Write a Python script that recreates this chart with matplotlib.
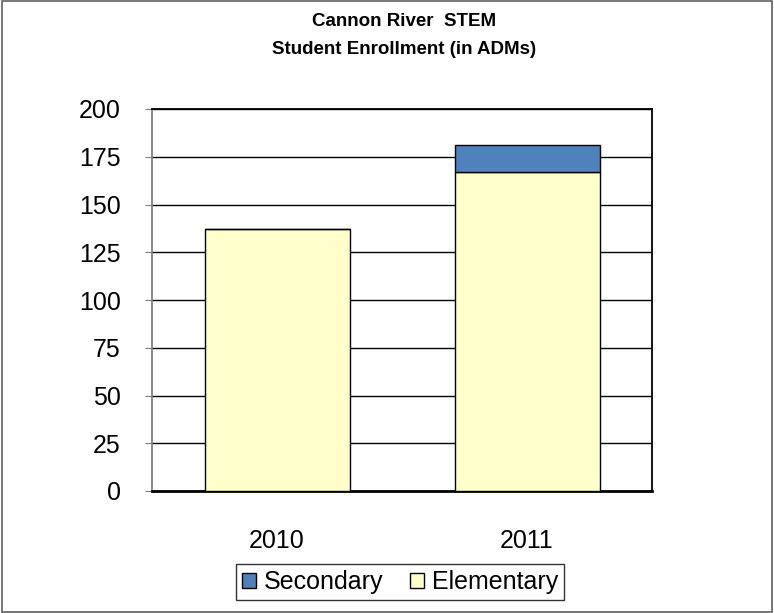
import matplotlib
matplotlib.use("Agg")
import matplotlib.pyplot as plt
from matplotlib.patches import Rectangle
import numpy as np

# data
years = ["2010", "2011"]
elementary = [137, 167]
secondary = [0, 14]
yticks = [0, 25, 50, 75, 100, 125, 150, 175, 200]

plt.rcParams['font.family'] = ['Liberation Sans', 'DejaVu Sans']

fig = plt.figure(figsize=(7.74, 6.13), dpi=100)
ax = fig.add_axes([152/774, 1 - 491/613, 500/774, 382/613])

x = np.arange(len(years))
ax.bar(x, elementary, width=0.58, color="#FFFFCC", edgecolor="black",
       linewidth=1, label="Elementary", zorder=3)
ax.bar(x, secondary, width=0.58, bottom=elementary, color="#4F81BD",
       edgecolor="black", linewidth=1, label="Secondary", zorder=3)

ax.set_xlim(-0.5, 1.5)
ax.set_ylim(0, 200)
ax.set_yticks(yticks)
ax.set_xticks(x)
ax.set_xticklabels(years)
ax.yaxis.grid(True, color="black", linewidth=1)
ax.set_axisbelow(True)

ax.tick_params(axis="y", labelsize=18, length=5, color="#808080",
               direction="out", pad=17.5)
ax.tick_params(axis="x", labelsize=18, length=0, pad=27)

for s in ["top", "right"]:
    ax.spines[s].set_color("black")
    ax.spines[s].set_linewidth(1.3)
ax.spines["left"].set_color("#808080")
ax.spines["left"].set_linewidth(1.3)
ax.spines["bottom"].set_color("black")
ax.spines["bottom"].set_linewidth(2)

h, l = ax.get_legend_handles_labels()
leg = fig.legend(h[::-1], l[::-1], loc="center", ncol=2,
                 bbox_to_anchor=(400/774, 1 - 582/613),
                 fontsize=18, frameon=True, fancybox=False,
                 edgecolor="black", handlelength=0.55, handleheight=0.55,
                 handletextpad=0.3, columnspacing=1.1, borderpad=0.25)
leg.get_frame().set_linewidth(1)

fig.text(404/774, 1 - 22/613, "Cannon River  STEM", ha="center", va="center",
         fontsize=13.5, fontweight="bold")
fig.text(404/774, 1 - 50/613, "Student Enrollment (in ADMs)", ha="center",
         va="center", fontsize=13.5, fontweight="bold")

fig.patches.append(Rectangle((0.002, 0.002), 0.996, 0.996, fill=False,
                             edgecolor="#606060", linewidth=1.2,
                             transform=fig.transFigure))

fig.savefig("out.png", dpi=100)
